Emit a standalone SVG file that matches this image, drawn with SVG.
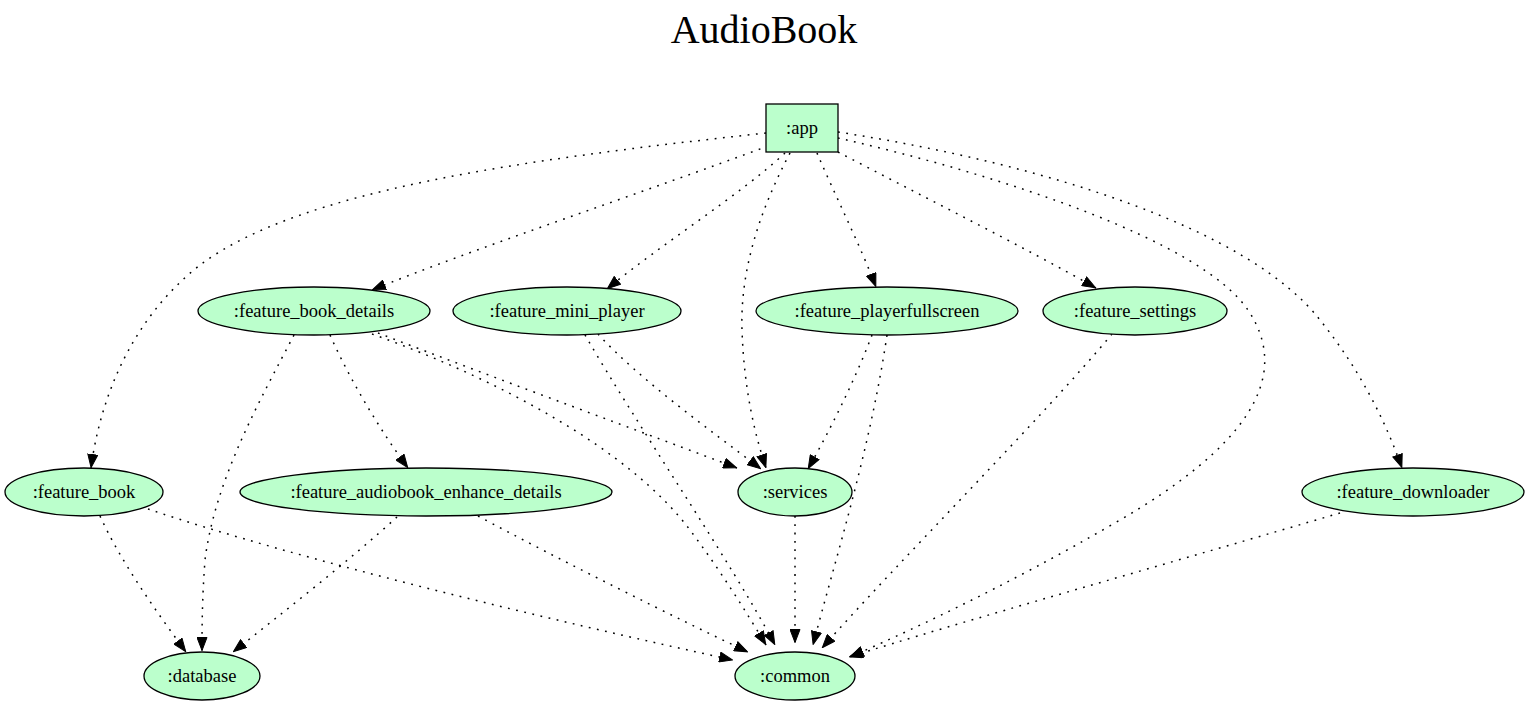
<svg xmlns="http://www.w3.org/2000/svg" width="1529" height="705" viewBox="0 0 1529 705">
<style>
.n ellipse, .n rect { fill:#bbffcc; stroke:#000; stroke-width:1.3; }
.n text { font-family:"Liberation Serif","Times New Roman",serif; font-size:18.5px; text-anchor:middle; fill:#000; }
.e path { fill:none; stroke:#000; stroke-width:1.5; stroke-dasharray:1.8,6.5; marker-end:url(#ah); }
.title { font-family:"Liberation Serif","Times New Roman",serif; font-size:40px; text-anchor:middle; fill:#000; }
</style>
<defs>
<marker id="ah" viewBox="0 0 14 11" refX="14" refY="5.5" markerWidth="14" markerHeight="11" markerUnits="userSpaceOnUse" orient="auto">
<path d="M0.5,0.5 L13.5,5.5 L0.5,10.5 z" fill="#000" stroke="#000" stroke-width="1"/>
</marker>
</defs>
<rect width="1529" height="705" fill="#fff"/>
<text class="title" x="764" y="43">AudioBook</text>
<g id="connectors" class="e">
<path d="M766,133 C520,160 300,190 200,265 C130,320 100,400 91,468"/>
<path d="M768,146 C650,190 470,250 372,290"/>
<path d="M785,153 C740,195 660,245 607,289"/>
<path d="M790,153 C760,210 740,270 742,330 C744,390 755,435 766,468"/>
<path d="M817,153 C835,195 860,245 876,287"/>
<path d="M838,152 C920,195 1020,245 1096,288"/>
<path d="M838,138 C1000,175 1200,240 1248,310 C1295,380 1240,450 1120,520 C1000,590 900,635 850,657"/>
<path d="M838,132 C1050,165 1250,230 1320,320 C1360,370 1385,420 1402,468"/>
<path d="M294,335 C260,400 215,480 205,560 C202,600 202,630 202,651"/>
<path d="M330,335 C350,380 380,430 408,468"/>
<path d="M378,333 C500,380 650,435 737,468"/>
<path d="M372,334 C500,380 630,450 690,530 C720,570 745,610 766,645"/>
<path d="M598,334 C640,380 710,430 761,469"/>
<path d="M585,335 C640,430 730,560 775,645"/>
<path d="M872,335 C855,380 830,430 808,469"/>
<path d="M887,335 C870,450 835,560 813,645"/>
<path d="M1112,334 C1040,420 900,560 822,648"/>
<path d="M100,516 C120,560 155,610 186,652"/>
<path d="M148,509 C300,560 550,620 733,660"/>
<path d="M397,517 C350,560 280,615 233,652"/>
<path d="M478,516 C560,560 680,620 748,652"/>
<path d="M795,516 L795,643"/>
<path d="M1340,513 C1180,560 950,625 849,657"/>
</g>
<g id="app" class="n"><rect x="766" y="104" width="72" height="48"/><text x="802" y="134">:app</text></g>
<g id="feature_book_details" class="n"><ellipse cx="314" cy="311" rx="116" ry="24"/><text x="314" y="317">:feature_book_details</text></g>
<g id="feature_mini_player" class="n"><ellipse cx="567" cy="311" rx="114" ry="24"/><text x="567" y="317">:feature_mini_player</text></g>
<g id="feature_playerfullscreen" class="n"><ellipse cx="887" cy="311" rx="131" ry="24"/><text x="887" y="317">:feature_playerfullscreen</text></g>
<g id="feature_settings" class="n"><ellipse cx="1135" cy="311" rx="92" ry="24"/><text x="1135" y="317">:feature_settings</text></g>
<g id="feature_book" class="n"><ellipse cx="84" cy="492" rx="79" ry="24"/><text x="84" y="498">:feature_book</text></g>
<g id="feature_audiobook_enhance_details" class="n"><ellipse cx="426" cy="492" rx="186" ry="24"/><text x="426" y="498">:feature_audiobook_enhance_details</text></g>
<g id="services" class="n"><ellipse cx="795" cy="492" rx="57" ry="24"/><text x="795" y="498">:services</text></g>
<g id="feature_downloader" class="n"><ellipse cx="1413" cy="492" rx="111" ry="24"/><text x="1413" y="498">:feature_downloader</text></g>
<g id="database" class="n"><ellipse cx="202" cy="676" rx="58" ry="24"/><text x="202" y="682">:database</text></g>
<g id="common" class="n"><ellipse cx="795" cy="676" rx="60" ry="24"/><text x="795" y="682">:common</text></g>
</svg>
